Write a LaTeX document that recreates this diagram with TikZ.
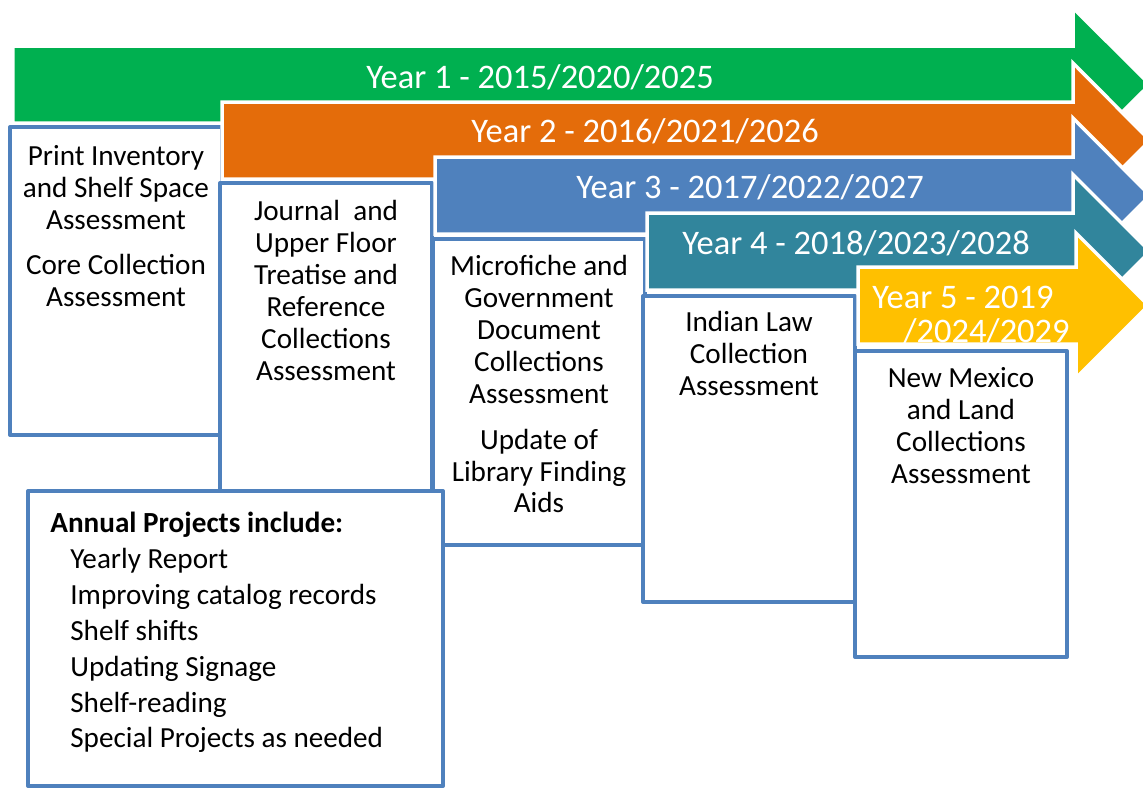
\documentclass[tikz,border=0pt]{standalone}
\usepackage{fontspec}
\setmainfont{Carlito}
\usepackage[dvipsnames]{xcolor}
\definecolor{YrGreen}{HTML}{00B050}
\definecolor{YrOrange}{HTML}{E46C0A}
\definecolor{YrBlue}{HTML}{4F81BD}
\definecolor{YrTeal}{HTML}{31859C}
\definecolor{YrGold}{HTML}{FFC000}
\definecolor{BoxBlue}{HTML}{4F81BD}

\begin{document}
\begin{tikzpicture}[x=0.02cm,y=-0.02cm,line join=miter,
    yeararrow/.style={draw=white,line width=0.07cm},
    taskbox/.style={draw=BoxBlue,fill=white,line width=0.08cm,line join=round},
    tasktext/.style={anchor=north,align=center,inner sep=0pt,font=\fontsize{16.6}{18.2}\selectfont},
    yeartext/.style={text=white,inner sep=0pt,font=\fontsize{19.6}{19.4}\selectfont}]
    \clip (0,0) rectangle (1143,789);

    % year 1
    \filldraw[yeararrow,fill=YrGreen] (13,46) -- (1073,46) -- (1073,8) -- (1150,84.5) -- (1073,161) -- (1073,123) -- (13,123) -- cycle;
    \node[yeartext] (year1) at (540,77) {Year 1 - 2015/2020/2025};
    \draw[taskbox] (10,127) rectangle (222,435);
    \node[tasktext] (print) at (116,145) {Print Inventory\\and Shelf Space\\Assessment\\[7.7pt]Core Collection\\Assessment};

    % year 2
    \filldraw[yeararrow,fill=YrOrange] (222,102) -- (1073,102) -- (1073,63) -- (1150,140.5) -- (1073,218) -- (1073,179) -- (222,179) -- cycle;
    \node[yeartext] (year2) at (645,131) {Year 2 - 2016/2021/2026};
    \draw[taskbox] (220,183) rectangle (432,492);
    \node[tasktext] (journal) at (326,200) {Journal\ \ and\\Upper Floor\\Treatise and\\Reference\\Collections\\Assessment};

    % year 3
    \filldraw[yeararrow,fill=YrBlue] (435,157) -- (1073,157) -- (1073,118) -- (1150,195.5) -- (1073,273) -- (1073,234) -- (435,234) -- cycle;
    \node[yeartext] (year3) at (750,187) {Year 3 - 2017/2022/2027};
    \draw[taskbox] (433,239) rectangle (645,545);
    \node[tasktext] (micro) at (539,255) {Microfiche and\\Government\\Document\\Collections\\Assessment\\[7.7pt]Update of\\Library Finding\\Aids};

    % year 4
    \filldraw[yeararrow,fill=YrTeal] (647,213) -- (1073,213) -- (1073,174.5) -- (1150,251.5) -- (1073,328.5) -- (1073,290) -- (647,290) -- cycle;
    \node[yeartext] (year4) at (856,243) {Year 4 - 2018/2023/2028};
    \draw[taskbox] (643,296) rectangle (855,602);
    \node[tasktext] (indian) at (749,311) {Indian Law\\Collection\\Assessment};

    % year 5
    \filldraw[yeararrow,fill=YrGold] (858,267) -- (1076,267) -- (1076,233) -- (1148.5,305.5) -- (1076,378) -- (1076,344) -- (858,344) -- cycle;
    \node[yeartext,anchor=north west,align=left] (year5) at (872,286) {Year 5 - 2019\\\hspace*{0.62cm}/2024/2029};
    \draw[taskbox] (855,351) rectangle (1067,657);
    \node[tasktext] (newmex) at (961,367) {New Mexico\\and Land\\Collections\\Assessment};

    % annual projects
    \draw[taskbox] (28,491) rectangle (443,786);
    \node[anchor=north west,align=left,inner sep=0pt,font=\fontsize{16.6}{20.4}\selectfont] (annual) at (50,512)
        {\textbf{Annual Projects include:}\\
         \hspace*{0.4cm}Yearly Report\\
         \hspace*{0.4cm}Improving catalog records\\
         \hspace*{0.4cm}Shelf shifts\\
         \hspace*{0.4cm}Updating Signage\\
         \hspace*{0.4cm}Shelf-reading\\
         \hspace*{0.4cm}Special Projects as needed};
\end{tikzpicture}
\end{document}
